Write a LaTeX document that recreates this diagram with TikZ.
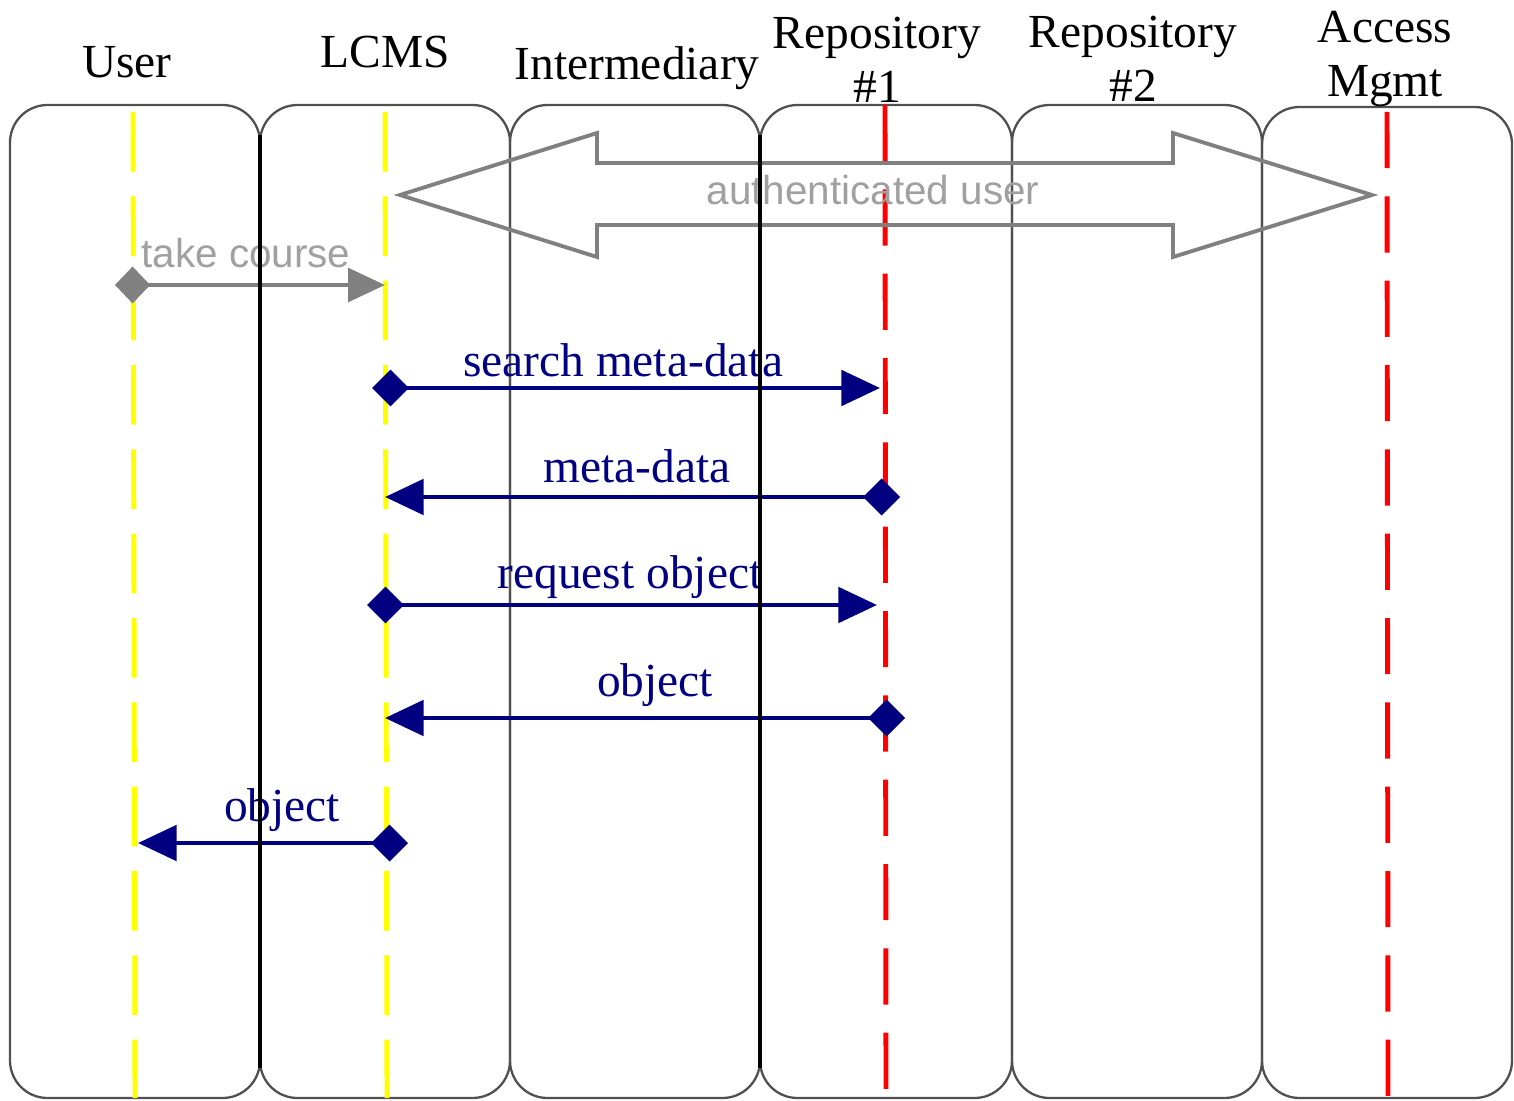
\documentclass[tikz,border=0pt]{standalone}
\usepackage{fontspec}
\setmainfont{Liberation Serif}
\newfontfamily\labelsans{Liberation Sans}
\usetikzlibrary{arrows.meta}
\definecolor{navyblue}{HTML}{000080}
\definecolor{tgray}{HTML}{A0A0A0}
\definecolor{agray}{HTML}{808080}
\definecolor{lanegray}{HTML}{505050}
\definecolor{lyellow}{HTML}{FFFF00}
\definecolor{lred}{HTML}{FF0000}
\begin{document}
\begin{tikzpicture}[x=0.02cm,y=-0.02cm,
 lane/.style={draw=lanegray,line width=1.3pt,rounded corners=0.75cm},
 divider/.style={draw=black,line width=1.8pt},
 lifeY/.style={draw=lyellow,line width=2.8pt,dash pattern=on 34pt off 14pt},
 lifeR/.style={draw=lred,line width=2.8pt,dash pattern=on 32pt off 16pt},
 header/.style={font=\fontsize{27}{31}\selectfont,align=center,anchor=base,inner sep=0pt},
 msglabel/.style={font=\fontsize{27}{31}\selectfont,text=navyblue,anchor=base,inner sep=0pt},
 graylabel/.style={font=\labelsans\fontsize{23}{27}\selectfont,text=tgray,anchor=base,inner sep=0pt},
 msg/.style={draw=navyblue,line width=2.8pt,{Diamond[length=21pt,width=21pt]}-{Triangle[length=22pt,width=20pt]}},
 graymsg/.style={draw=agray,line width=2.6pt,{Diamond[length=20pt,width=21pt]}-{Triangle[length=21pt,width=19pt]}},
 blockarrow/.style={draw=agray,line width=2.2pt,line join=miter}]
\useasboundingbox (0,0) rectangle (1514,1101);

% lanes
\draw[lane] (10,105) rectangle (260,1098);
\draw[lane] (260,105) rectangle (510,1098);
\draw[lane] (510,105) rectangle (760,1098);
\draw[lane] (760,105) rectangle (1012,1098);
\draw[lane] (1012,105) rectangle (1262,1098);
\draw[lane] (1262,107) rectangle (1512,1098);

% lifelines
\coordinate (userTop) at (133,112);
\coordinate (userBot) at (135,1098);
\coordinate (lcmsTop) at (385,112);
\coordinate (lcmsBot) at (387,1098);
\coordinate (repoTop) at (885,105);
\coordinate (repoBot) at (886,1098);
\coordinate (accTop) at (1387,112);
\coordinate (accBot) at (1388,1098);
\draw[lifeY] (userTop) -- (userBot);
\draw[lifeY] (lcmsTop) -- (lcmsBot);
\draw[lifeR] (repoTop) -- (repoBot);
\draw[lifeR] (accTop) -- (accBot);

% authenticated user block arrow
\coordinate (authL) at (400,195);
\coordinate (authR) at (1372,195);
\draw[blockarrow] (authL) -- (597,133) -- (597,163) -- (1173,163) -- (1173,133)
  -- (authR) -- (1173,257) -- (1173,225) -- (597,225) -- (597,257) -- cycle;

% messages
\coordinate (m1s) at (115,285);  \coordinate (m1e) at (385,285);
\coordinate (m2s) at (372,388);  \coordinate (m2e) at (880,388);
\coordinate (m3s) at (900,497);  \coordinate (m3e) at (385,497);
\coordinate (m4s) at (367,605);  \coordinate (m4e) at (877,605);
\coordinate (m5s) at (905,718);  \coordinate (m5e) at (385,718);
\coordinate (m6s) at (408,843);  \coordinate (m6e) at (138,843);
\draw[graymsg] (m1s) -- (m1e);
\draw[msg] (m2s) -- (m2e);
\draw[msg] (m3s) -- (m3e);
\draw[msg] (m4s) -- (m4e);
\draw[msg] (m5s) -- (m5e);
\draw[msg] (m6s) -- (m6e);

% labels
\node[graylabel] (lTake) at (246,268) {take course};
\node[graylabel] (lAuth) at (873,205) {authenticated user};
\node[msglabel] (lSearch) at (623,377) {search meta-data};
\node[msglabel] (lMeta) at (637,482) {meta-data};
\node[msglabel] (lReq) at (630,588) {request object};
\node[msglabel] (lObj1) at (655,696) {object};
\node[msglabel] (lObj2) at (282,821) {object};

% darker dividers
\draw[divider] (260,135) -- (260,1068);
\draw[divider] (760,135) -- (760,1068);

% headers
\node[header] (hUser) at (127,78) {User};
\node[header] (hLCMS) at (385,68) {LCMS};
\node[header] (hInter) at (637,80) {Intermediary};
\node[header] (hRepo1) at (877,103) {Repository\\\#1};
\node[header] (hRepo2) at (1133,102) {Repository\\\#2};
\node[header] (hAccess) at (1385,97) {Access\\Mgmt};
\end{tikzpicture}
\end{document}
